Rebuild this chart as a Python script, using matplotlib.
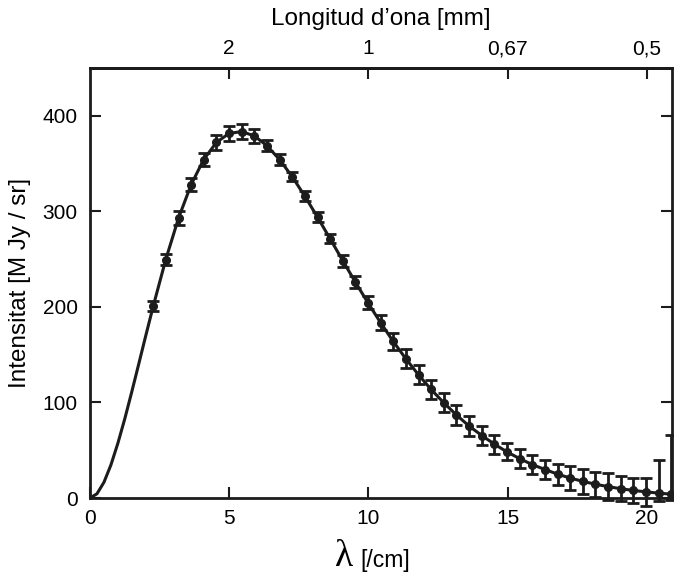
import matplotlib
matplotlib.use("Agg")
import matplotlib.pyplot as plt
import numpy as np

plt.rcParams['font.family'] = ['Liberation Sans', 'DejaVu Sans']

# measured points (wavenumber in /cm, intensity in MJy/sr)
freq = [2.27, 2.72, 3.18, 3.63, 4.08, 4.54, 4.99, 5.45, 5.90, 6.35,
        6.81, 7.26, 7.71, 8.17, 8.62, 9.08, 9.53, 9.98, 10.44, 10.89,
        11.34, 11.80, 12.25, 12.71, 13.16, 13.61, 14.07, 14.52, 14.97, 15.43,
        15.88, 16.34, 16.79, 17.24, 17.70, 18.15, 18.61, 19.06, 19.51, 19.97,
        20.42, 20.87]
intensity = [200.7, 249.5, 293.0, 327.8, 354.1, 372.1, 381.5, 383.5, 378.9, 368.8,
             354.1, 336.3, 316.1, 293.9, 271.4, 248.2, 225.9, 204.3, 183.3, 163.8,
             145.8, 128.8, 113.6, 99.5, 86.9, 75.4, 65.4, 56.4, 48.3, 41.2,
             35.0, 29.8, 25.0, 20.9, 17.4, 14.4, 11.9, 9.7, 7.9, 6.4,
             5.1, 4.0]
err_low = [5, 6, 7, 7, 7, 8, 8, 8, 7, 6,
           6, 5, 5, 5, 5, 6, 6, 7, 8, 9,
           10, 10, 10, 10, 10, 10, 10, 10, 9, 10,
           10, 10, 11, 13, 13, 13, 14, 13, 13, 15,
           8, 6]
err_high = [5, 6, 7, 7, 7, 8, 8, 8, 7, 6,
            6, 5, 5, 5, 5, 6, 6, 7, 8, 9,
            10, 10, 10, 10, 10, 10, 10, 10, 9, 10,
            10, 10, 11, 13, 13, 13, 14, 13, 13, 15,
            35, 62]

# fitted blackbody curve below the first measured point
curve_low_x = [0.0, 0.25, 0.5, 0.75, 1.0, 1.25, 1.5, 1.75, 2.0]
curve_low_y = [0.0, 4.4, 16.4, 34.5, 57.2, 83.0, 111.1, 140.2, 169.6]

top_ticks = [5, 10, 15, 20]
top_labels = ['2', '1', '0,67', '0,5']

ink = '#1c1c1c'

fig = plt.figure(figsize=(6.74, 5.80), dpi=100)
ax = fig.add_axes([90 / 674, 1 - 498 / 580, 582 / 674, 430 / 580])

ax.plot(curve_low_x + freq, curve_low_y + intensity, color=ink, lw=2.2, zorder=2)
ax.errorbar(freq, intensity, yerr=[err_low, err_high], fmt='o', ms=5.5,
            color=ink, ecolor=ink, elinewidth=2.0, capsize=4, capthick=2.0,
            zorder=3, clip_on=False)

ax.set_xlim(0, 20.9)
ax.set_ylim(0, 450)
ax.set_xticks([0, 5, 10, 15, 20])
ax.set_yticks([0, 100, 200, 300, 400])

for side in ax.spines.values():
    side.set_linewidth(2.0)
    side.set_color(ink)

ax.tick_params(direction='in', length=8, width=1.5, color=ink,
               labelsize=15, right=True, pad=8)
ax.tick_params(axis='y', pad=9)

secax = ax.secondary_xaxis('top')
secax.set_xticks(top_ticks, labels=top_labels)
secax.tick_params(direction='in', length=8, width=1.5, color=ink,
                  labelsize=15, pad=7)
secax.set_xlabel("Longitud d\u2019ona [mm]", fontsize=17.5, labelpad=10)
secax.spines['top'].set_linewidth(2.0)

ax.set_ylabel('Intensitat [M Jy / sr]', fontsize=17.5, labelpad=8)

fig.text(0.510, 0.024, '\u03bb', fontsize=27,
         family=['Liberation Serif', 'DejaVu Serif'], ha='center', va='baseline')
fig.text(0.534, 0.022, '[/cm]', fontsize=16.5, ha='left', va='baseline')

fig.savefig('out.png', dpi=100)
